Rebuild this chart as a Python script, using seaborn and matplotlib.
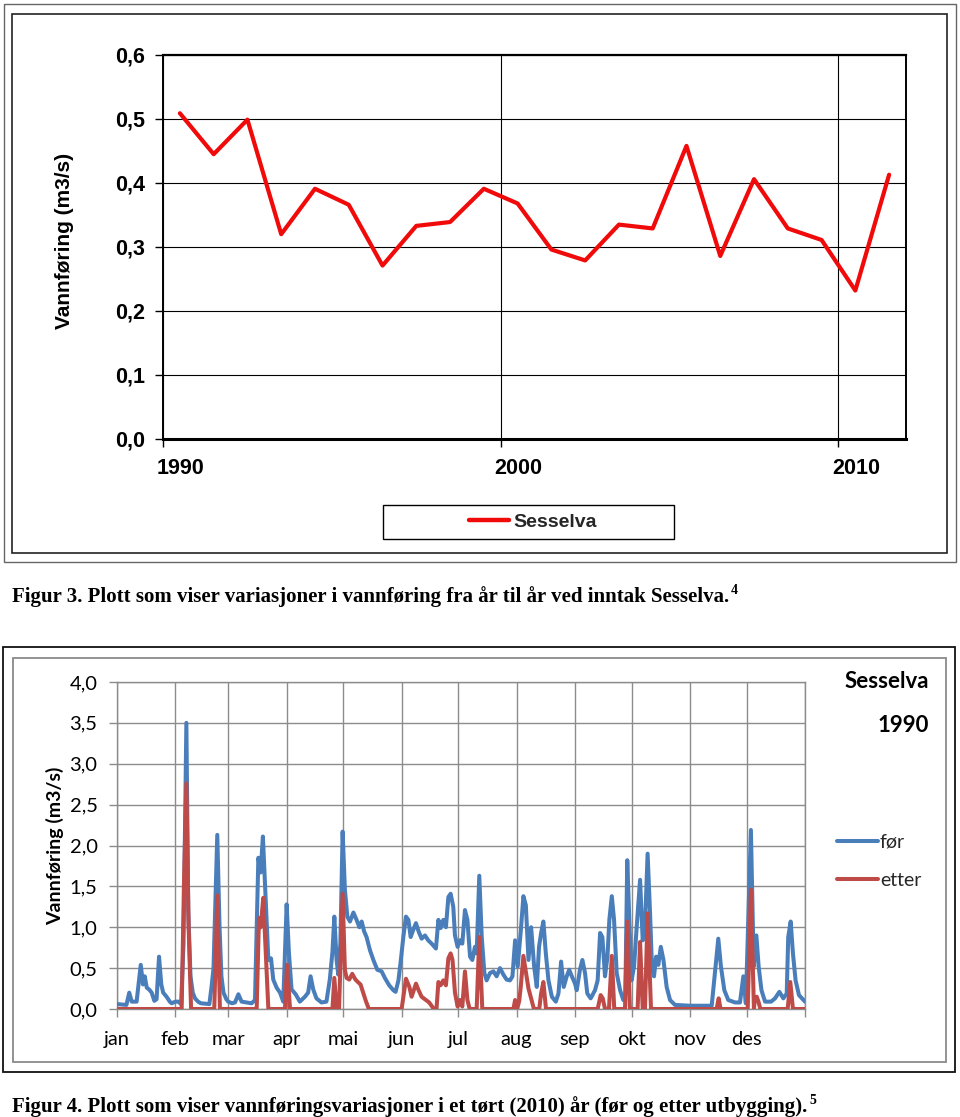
import numpy as np
import matplotlib
matplotlib.use("Agg")
import matplotlib.pyplot as plt
import seaborn as sns
from matplotlib.patches import Rectangle
from matplotlib.lines import Line2D
import matplotlib.transforms as mtransforms

# ---------------- data: Figure 3 (annual mean discharge) ----------------
years = [1990, 1991, 1992, 1993, 1994, 1995, 1996, 1997, 1998, 1999, 2000,
         2001, 2002, 2003, 2004, 2005, 2006, 2007, 2008, 2009, 2010, 2011]
sesselva = [0.509, 0.445, 0.499, 0.320, 0.391, 0.366, 0.271, 0.333, 0.339,
            0.391, 0.368, 0.296, 0.279, 0.335, 0.329, 0.458, 0.286, 0.406,
            0.329, 0.311, 0.232, 0.413]
year_ticks = [1990, 2000, 2010]
top_yticks = [0.0, 0.1, 0.2, 0.3, 0.4, 0.5, 0.6]

# ---------------- data: Figure 4 (daily discharge, before / after) ----------------
for_days = [0, 5, 6.5, 7.8, 10.4, 12.6, 13.8, 14.7, 15.8, 17, 18.4, 19.8, 21, 22.3,
            23.5, 24.5, 26.3, 28, 29, 31, 32.5, 34, 35.3, 36.8, 37.8, 39, 40.2,
            41.4, 43, 44.5, 49, 50.2, 51.2, 53.2, 54.4, 55.4, 56.5, 58, 59, 61,
            62.6, 64.4, 66.1, 68.8, 71.4, 73.2, 75, 76.2, 77.4, 78.9, 80.3, 81.7,
            82.9, 84.7, 86.5, 88.2, 90, 91.2, 92.6, 94.8, 97, 99.7, 101.4, 102.7,
            104.1, 105.8, 108.5, 111.1, 112.9, 114.3, 115.3, 116.5, 117.4, 118.5,
            119.7, 120.9, 122.2, 123.6, 125.4, 127.1, 128.6, 129.8, 131.1, 132.4,
            134.2, 136, 138.1, 140.4, 142.1, 144.4, 146.6, 147.8, 149.3, 150.5,
            151.9, 153.3, 154.6, 155.8, 157.2, 158.6, 160, 161.6, 163.4, 165.1,
            166.9, 169.2, 170.5, 171.7, 173.1, 174.5, 175.8, 177, 178.4, 179.3,
            180.7, 182, 183.2, 184.6, 185.9, 187.3, 188.5, 189.9, 190.8, 192.2,
            193.5, 194.9, 196.1, 197.9, 199.7, 201.4, 203.2, 205, 206.7, 208.5,
            209.8, 211.2, 212.6, 214.2, 215.6, 216.9, 218.3, 219.7, 221.3, 222.7,
            223.9, 225, 226.2, 227.5, 228.9, 230.7, 232.8, 234.2, 235.6, 237,
            238.6, 239.9, 241.3, 243, 243.9, 245.6, 246.9, 248.3, 249.5, 251.3,
            253.6, 255, 256.3, 257.5, 258.9, 260.2, 261.2, 262.5, 263.7, 265.1,
            266.9, 268.6, 269.7, 270.7, 271.8, 273, 274.3, 275.7, 277.5, 278.9,
            280.1, 281.5, 282.8, 283.8, 284.9, 286, 287.2, 288.5, 289.9, 291.6,
            293.4, 296, 304, 315.5, 317.2, 319, 320.4, 322.2, 324.3, 327.9, 330.5,
            332.3, 333.6, 336.3, 337.8, 339.2, 340.4, 341.9, 343.8, 347, 349.1,
            351.4, 353.5, 355.3, 356.1, 357.4, 358.6, 360, 361.8, 365]
for_vals = [0.06, 0.05, 0.20, 0.09, 0.09, 0.54, 0.30, 0.40, 0.26, 0.24, 0.20, 0.10,
            0.12, 0.64, 0.30, 0.20, 0.15, 0.09, 0.07, 0.09, 0.09, 0.06, 0.80, 3.50,
            1.20, 0.40, 0.20, 0.13, 0.09, 0.07, 0.06, 0.28, 0.50, 2.13, 1.00, 0.40,
            0.20, 0.12, 0.09, 0.07, 0.08, 0.18, 0.09, 0.08, 0.07, 0.11, 1.85, 1.67,
            2.11, 1.34, 0.60, 0.62, 0.36, 0.26, 0.20, 0.09, 1.28, 0.69, 0.24, 0.18,
            0.09, 0.15, 0.20, 0.40, 0.24, 0.13, 0.08, 0.09, 0.36, 0.70, 1.13, 0.60,
            0.42, 0.80, 2.17, 1.46, 1.13, 1.07, 1.18, 1.09, 1.00, 1.07, 0.95, 0.88,
            0.72, 0.60, 0.48, 0.46, 0.38, 0.29, 0.23, 0.21, 0.35, 0.58, 0.88, 1.13,
            1.09, 0.88, 0.97, 1.05, 0.95, 0.86, 0.90, 0.84, 0.80, 0.74, 1.09, 0.99,
            1.09, 1.00, 1.37, 1.41, 1.25, 0.90, 0.76, 0.84, 0.80, 1.21, 1.09, 0.64,
            0.60, 0.76, 0.68, 1.63, 0.88, 0.44, 0.35, 0.44, 0.46, 0.40, 0.50, 0.42,
            0.36, 0.35, 0.40, 0.84, 0.52, 0.95, 1.38, 1.27, 0.60, 1.00, 0.52, 0.27,
            0.76, 0.93, 1.07, 0.68, 0.35, 0.15, 0.09, 0.19, 0.58, 0.27, 0.40, 0.48,
            0.40, 0.31, 0.23, 0.48, 0.60, 0.44, 0.19, 0.13, 0.23, 0.35, 0.93, 0.88,
            0.40, 0.64, 1.09, 1.38, 1.09, 0.44, 0.23, 0.11, 0.19, 1.82, 1.09, 0.35,
            0.52, 1.00, 1.58, 0.84, 1.00, 1.90, 1.17, 0.52, 0.40, 0.64, 0.54, 0.76,
            0.60, 0.27, 0.11, 0.05, 0.04, 0.04, 0.44, 0.86, 0.52, 0.23, 0.11, 0.08,
            0.08, 0.40, 0.07, 2.19, 0.52, 0.90, 0.52, 0.23, 0.09, 0.09, 0.13, 0.21,
            0.13, 0.19, 0.88, 1.07, 0.68, 0.35, 0.17, 0.09]

etter_days = [0, 34.3, 35.5, 36.8, 38, 39.3, 51.6, 53.2, 54.6, 74.1, 75.3, 76.2,
              77.6, 78.7, 80.3, 89.1, 90.2, 91.8, 114.3, 115.3, 116.5, 117.8, 119.7,
              120.9, 121.8, 123.2, 124.8, 126.5, 127.8, 129.2, 130.6, 132, 133.6,
              151, 153.3, 155.1, 156.3, 158.6, 160, 161.6, 163.9, 165.6, 167.8,
              169.5, 170.5, 171.7, 173.1, 174.5, 175.8, 177, 178, 179.3, 180.7, 182,
              183.2, 184.6, 185.9, 187.1, 190.8, 192.2, 193.8, 210.3, 211.2, 212.3,
              213.4, 214.2, 215.6, 217, 218.3, 219.7, 221.2, 224, 225, 226.2, 227.6,
              255, 256.6, 257.7, 258.9, 261, 262.5, 263.8, 269.5, 270.7, 272.1,
              276.2, 277.5, 278.9, 280.1, 281.5, 283.3, 318.1, 319.2, 320.2, 334.6,
              336.3, 337.9, 338.4, 339.4, 340.3, 341.3, 355.8, 357.2, 358.6, 365]
etter_vals = [0, 0, 1.50, 2.76, 1.00, 0, 0, 1.39, 0, 0, 1.11, 1.00,
              1.36, 0.80, 0, 0, 0.54, 0, 0, 0.38, 0, 0, 1.41,
              0.48, 0.38, 0.36, 0.43, 0.36, 0.33, 0.30, 0.20, 0.10, 0,
              0, 0.37, 0.27, 0.15, 0.31, 0.23, 0.15, 0.11, 0.08, 0.01,
              0, 0.33, 0.29, 0.35, 0.29, 0.62, 0.68, 0.60, 0.20, 0.03, 0.11,
              0.03, 0.46, 0.11, 0, 0, 0.88, 0, 0, 0.11, 0,
              0.10, 0.27, 0.65, 0.44, 0.25, 0.13, 0, 0, 0.19, 0.33, 0,
              0, 0.17, 0.13, 0, 0, 0.65, 0, 0, 1.07, 0,
              0, 0.82, 0, 0, 1.17, 0, 0, 0.13, 0, 0,
              1.46, 0, 0.12, 0.15, 0.09, 0, 0, 0.33, 0, 0]
month_starts = [0, 31, 59, 90, 120, 151, 181, 212, 243, 273, 304, 334, 365]
month_labels = ["jan", "feb", "mar", "apr", "mai", "jun", "jul", "aug", "sep",
                "okt", "nov", "des", ""]
bottom_yticks = [0.0, 0.5, 1.0, 1.5, 2.0, 2.5, 3.0, 3.5, 4.0]

caption3 = "Figur 3. Plott som viser variasjoner i vannføring fra år til år ved inntak Sesselva."
caption4 = "Figur 4. Plott som viser vannføringsvariasjoner i et tørt (2010) år (før og etter utbygging)."

# ---------------- styling ----------------
sns.set_theme(style="white")
plt.rcParams["font.family"] = ["Liberation Sans", "DejaVu Sans"]

W, H = 960, 1117
fig = plt.figure(figsize=(W / 100, H / 100), dpi=100)
fig.patch.set_facecolor("white")


def frect(x0, y0, x1, y1):
    return [x0 / W, 1 - y1 / H, (x1 - x0) / W, (y1 - y0) / H]


def frame(x0, y0, x1, y1, color, lw):
    fig.patches.append(Rectangle((x0 / W, 1 - y1 / H), (x1 - x0) / W, (y1 - y0) / H,
                                 transform=fig.transFigure, fill=False,
                                 edgecolor=color, linewidth=lw, zorder=0))


def fmt(v):
    return f"{v:.1f}".replace(".", ",")


# ---------------- Figure 3 ----------------
frame(4, 4, 956, 562, "#666666", 1.0)
frame(12, 14, 947, 553, "#222222", 1.2)

RED = "#F00A0A"
ax1 = fig.add_axes(frect(163, 55, 906, 439))
sns.lineplot(x=np.array(years) + 0.5, y=sesselva, ax=ax1, color=RED, linewidth=3.0,
             legend=False, zorder=3)
ax1.set_xlim(1990, 2012)
ax1.set_ylim(0, 0.6)
ax1.grid(True, color="black", linewidth=0.8)
ax1.set_axisbelow(True)
for s in ax1.spines.values():
    s.set_color("black")
    s.set_linewidth(1.4)
ax1.spines["bottom"].set_linewidth(2.2)
ax1.spines["top"].set_linewidth(1.6)
ax1.tick_params(axis="both", which="major", direction="out", length=6, width=1,
                color="black", bottom=True, left=True, pad=7, labelcolor="black")
ax1.tick_params(axis="x", pad=8)
ax1.set_xticks(year_ticks)
ax1.set_xticklabels([str(y) for y in year_ticks], fontsize=15.5, fontweight="bold",
                    ha="left")
ax1.set_yticks(top_yticks)
ax1.set_yticklabels([fmt(v) for v in top_yticks], fontsize=15.5, fontweight="bold")
offset = mtransforms.ScaledTranslation(-6 / 100, 0, fig.dpi_scale_trans)
for lbl in ax1.get_xticklabels():
    lbl.set_transform(lbl.get_transform() + offset)
ax1.set_xlabel("")
ax1.set_ylabel("Vannføring (m3/s)", fontsize=15, fontweight="bold", color="black")
ax1.yaxis.set_label_coords(-0.12, 0.515)

frame(383, 505, 674, 539, "black", 1.0)
ax1.legend(handles=[Line2D([], [], color=RED, linewidth=3.2)], labels=["Sesselva"],
           loc="center left", bbox_to_anchor=(469 / W, 1 - 522 / H),
           bbox_transform=fig.transFigure, frameon=False, handlelength=2.05,
           handletextpad=0.25, borderpad=0, borderaxespad=0,
           prop={"weight": "bold", "size": 14})

# ---------------- Figure 4 ----------------
frame(3, 647, 955, 1072, "#111111", 1.3)
frame(13, 658, 946, 1062, "#8a8a8a", 1.3)

BLUE = "#4A7EBB"
DRED = "#BE4B48"
GRID = "#8c8c8c"
BF = "Lato"

ax2 = fig.add_axes(frect(117, 682, 805, 1009))
sns.lineplot(x=for_days, y=for_vals, ax=ax2, color=BLUE, linewidth=2.9,
             estimator=None, sort=False, label="før", zorder=3)
sns.lineplot(x=etter_days, y=etter_vals, ax=ax2, color=DRED, linewidth=2.9,
             estimator=None, sort=False, label="etter", zorder=4)
ax2.set_xlim(0, 365)
ax2.set_ylim(0, 4.0)
ax2.grid(True, color=GRID, linewidth=1.0)
ax2.set_axisbelow(True)
for s in ax2.spines.values():
    s.set_color(GRID)
    s.set_linewidth(1.0)
ax2.tick_params(axis="both", direction="out", length=6, width=1, color=GRID,
                bottom=True, left=True, pad=8)
ax2.tick_params(axis="x", pad=10)
ax2.set_xticks(month_starts)
ax2.set_xticklabels(month_labels, fontsize=14.5, fontfamily=BF, color="black")
ax2.set_yticks(bottom_yticks)
ax2.set_yticklabels([fmt(v) for v in bottom_yticks], fontsize=14.5, fontfamily=BF,
                    color="black")
ax2.set_xlabel("")
ax2.set_ylabel("Vannføring (m3/s)", fontsize=14, fontweight="bold", fontfamily=BF,
               color="black")
ax2.yaxis.set_label_coords(-0.077, 0.5)

handles, labels = ax2.get_legend_handles_labels()
ax2.legend(handles=handles, labels=labels, loc="center left",
           bbox_to_anchor=(837 / W, 1 - 861 / H), bbox_transform=fig.transFigure,
           frameon=False, handlelength=2.1, handletextpad=0.1, labelspacing=1.08,
           borderpad=0, borderaxespad=0, prop={"family": BF, "size": 14})

fig.text(929 / W, 1 - 682 / H, "Sesselva", ha="right", va="center", fontsize=16,
         fontweight="bold", fontfamily=BF, color="black")
fig.text(929 / W, 1 - 725 / H, "1990", ha="right", va="center", fontsize=16,
         fontweight="bold", fontfamily=BF, color="black")

# ---------------- captions ----------------
SERIF = ["Liberation Serif", "DejaVu Serif"]
t3 = fig.text(12 / W, 1 - 602 / H, caption3, ha="left", va="baseline", fontsize=15,
              fontweight="bold", fontfamily=SERIF, color="black")
t4 = fig.text(12 / W, 1 - 1112 / H, caption4, ha="left", va="baseline", fontsize=15,
              fontweight="bold", fontfamily=SERIF, color="black")
renderer = fig.canvas.get_renderer()
b3 = t3.get_window_extent(renderer)
b4 = t4.get_window_extent(renderer)
fig.text((b3.x1 + 2) / W, 1 - 594 / H, "4", ha="left", va="baseline", fontsize=10,
         fontweight="bold", fontfamily=SERIF, color="black")
fig.text((b4.x1 + 2) / W, 1 - 1104 / H, "5", ha="left", va="baseline", fontsize=10,
         fontweight="bold", fontfamily=SERIF, color="black")

fig.savefig("out.png", dpi=100)
